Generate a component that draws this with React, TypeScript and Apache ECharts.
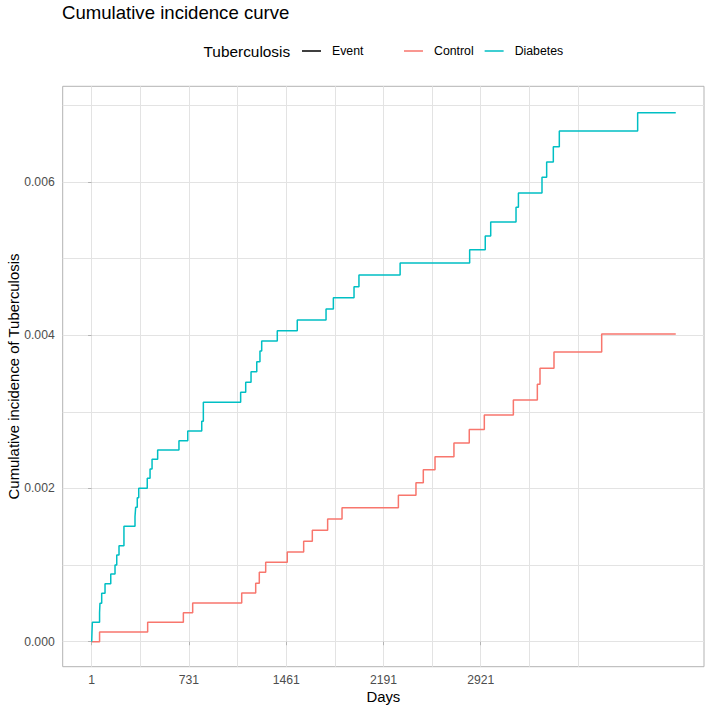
import React, { useEffect, useRef } from "react";
import * as echarts from "echarts";

const xTickValues = [1, 731, 1461, 2191, 2921];
const xGridValues = [1, 366, 731, 1096, 1461, 1826, 2191, 2556, 2921, 3286, 3651];
const yTickValues = [0, 0.002, 0.004, 0.006];
const yGridValues = [0, 0.001, 0.002, 0.003, 0.004, 0.005, 0.006, 0.007];

const groupNames = ["Control", "Diabetes"];
const groupColors = ["#F8766D", "#00BFC4"];

const controlDays = [1, 60, 421, 689, 759, 1127, 1232, 1259, 1307, 1469, 1592, 1657, 1772, 1880, 2303, 2435, 2490, 2578, 2720, 2835, 2948, 3166, 3346, 3366, 3471, 3829, 4385];
const controlValues = [0, 0.000127, 0.000253, 0.000379, 0.000505, 0.000636, 0.000762, 0.000905, 0.001036, 0.001171, 0.00131, 0.001453, 0.001601, 0.001749, 0.00191, 0.002075, 0.002245, 0.002414, 0.002593, 0.002771, 0.002958, 0.003154, 0.003359, 0.003568, 0.00378, 0.004015, 0.004015];

const diabetesDays = [1, 3, 6, 60, 63, 76, 101, 144, 176, 189, 206, 243, 326, 331, 343, 354, 418, 439, 454, 496, 656, 722, 827, 839, 1119, 1157, 1197, 1240, 1264, 1277, 1394, 1544, 1760, 1815, 1970, 2007, 2316, 2838, 2955, 2996, 3186, 3204, 3381, 3416, 3466, 3511, 4099, 4385];
const diabetesValues = [0, 0.000124, 0.000253, 0.000377, 0.000501, 0.000631, 0.000757, 0.000883, 0.001001, 0.001131, 0.001253, 0.001506, 0.00163, 0.001754, 0.001879, 0.002002, 0.002132, 0.002254, 0.00238, 0.002502, 0.002623, 0.00275, 0.002876, 0.003124, 0.003255, 0.003385, 0.003524, 0.003654, 0.003794, 0.003924, 0.004059, 0.004198, 0.004342, 0.004489, 0.004633, 0.004785, 0.004942, 0.005114, 0.005294, 0.005477, 0.005669, 0.005855, 0.00606, 0.00626, 0.00646, 0.006664, 0.006903, 0.006903];

const FONT = "'Liberation Sans', Arial, sans-serif";
const ICON = "path://M0,0h0.01v0.01h-0.01z M0,6.25h19v1.5h-19z M25,13.99h0.01v0.01h-0.01z";

function zip(xs: number[], ys: number[]) {
  return xs.map((x, i) => [x, ys[i]]);
}

export default function App() {
  const ref = useRef<HTMLDivElement>(null);
  useEffect(() => {
    document.body.style.margin = "0";
    const chart = echarts.init(ref.current!, undefined, { renderer: "svg" });
    const tickLabel = { color: "#4D4D4D", fontSize: 12.2, fontFamily: FONT };
    const option: any = {
      animation: false,
      backgroundColor: "#ffffff",
      title: [
        {
          text: "Cumulative incidence curve",
          left: 62,
          top: 3,
          padding: 0,
          textStyle: { color: "#000", fontSize: 18.6, fontWeight: "normal", fontFamily: FONT },
        },
        {
          text: "Tuberculosis",
          left: 203.5,
          top: 43.5,
          padding: 0,
          textStyle: { color: "#000", fontSize: 15.4, fontWeight: "normal", fontFamily: FONT },
        },
      ],
      legend: [
        {
          left: 302,
          top: 44,
          padding: 0,
          itemWidth: 25,
          itemHeight: 14,
          selectedMode: false,
          itemStyle: { borderWidth: 0 },
          textStyle: { color: "#000", fontSize: 12.3, fontFamily: FONT },
          data: [{ name: "Event", icon: ICON, itemStyle: { color: "#000000", borderWidth: 0 } }],
        },
        {
          left: 404,
          top: 44,
          padding: 0,
          itemGap: 11,
          itemWidth: 25,
          itemHeight: 14,
          selectedMode: false,
          itemStyle: { borderWidth: 0 },
          textStyle: { color: "#000", fontSize: 12.3, fontFamily: FONT },
          data: groupNames.map((n, i) => ({ name: n, icon: ICON, itemStyle: { color: groupColors[i], borderWidth: 0 } })),
        },
      ],
      grid: {
        left: 62.7,
        right: 5,
        top: 86.3,
        bottom: 42.3,
        containLabel: false,
        outerBoundsMode: "none",
        show: true,
        borderColor: "#B3B3B3",
        borderWidth: 1,
        backgroundColor: "transparent",
      },
      xAxis: [
        {
          type: "value",
          min: -216.7,
          max: 4597,
          name: "Days",
          nameLocation: "middle",
          nameGap: 22.5,
          nameMoveOverlap: false,
          nameTextStyle: { color: "#000", fontSize: 14.9, fontFamily: FONT },
          axisLine: { show: false },
          axisTick: { show: true, length: 3.5, lineStyle: { color: "#B3B3B3", width: 1 }, customValues: xTickValues },
          axisLabel: { ...tickLabel, margin: 7, customValues: xTickValues, formatter: (v: number) => String(v) },
          splitLine: { show: false },
        },
        {
          type: "value",
          min: -216.7,
          max: 4597,
          position: "bottom",
          axisLine: { show: false },
          axisTick: { show: false, customValues: xGridValues },
          axisLabel: { show: false },
          splitLine: { show: true, lineStyle: { color: "#E3E3E3", width: 1 } },
        },
      ],
      yAxis: [
        {
          type: "value",
          min: -0.000326,
          max: 0.007248,
          name: "Cumulative incidence of Tuberculosis",
          nameLocation: "middle",
          nameGap: 41,
          nameMoveOverlap: false,
          nameTextStyle: { color: "#000", fontSize: 14.9, fontFamily: FONT },
          axisLine: { show: false },
          axisTick: { show: true, length: 3.5, lineStyle: { color: "#B3B3B3", width: 1 }, customValues: yTickValues },
          axisLabel: { ...tickLabel, margin: 8, customValues: yTickValues, formatter: (v: number) => v.toFixed(3) },
          splitLine: { show: false },
        },
        {
          type: "value",
          min: -0.000326,
          max: 0.007248,
          position: "left",
          axisLine: { show: false },
          axisTick: { show: false, customValues: yGridValues },
          axisLabel: { show: false },
          splitLine: { show: true, lineStyle: { color: "#E3E3E3", width: 1 } },
        },
      ],
      series: [
        {
          name: "Event",
          type: "line",
          data: [],
          color: "#000000",
          showSymbol: false,
          symbol: "none",
        },
        {
          name: groupNames[0],
          type: "line",
          step: "end",
          data: zip(controlDays, controlValues),
          color: groupColors[0],
          showSymbol: false,
          symbol: "none",
          lineStyle: { width: 1.5, color: groupColors[0] },
          z: 3,
        },
        {
          name: groupNames[1],
          type: "line",
          step: "end",
          data: zip(diabetesDays, diabetesValues),
          color: groupColors[1],
          showSymbol: false,
          symbol: "none",
          lineStyle: { width: 1.5, color: groupColors[1] },
          z: 3,
        },
      ],
    };
    chart.setOption(option);
    return () => chart.dispose();
  }, []);
  return (
    <div
      ref={ref}
      style={{ position: "absolute", left: 0, top: 0, width: 709, height: 709 }}
    />
  );
}
